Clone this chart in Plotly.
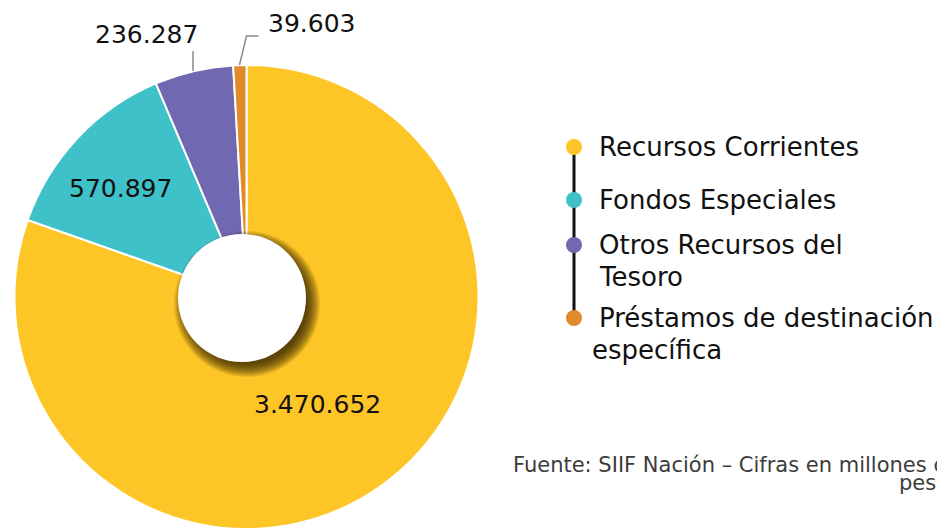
import textwrap
import plotly.graph_objects as go

# ---- data ----
categories = ["Recursos Corrientes", "Fondos Especiales",
              "Otros Recursos del Tesoro", "Préstamos de destinación específica"]
values = [3470652, 570897, 236287, 39603]
colors = ["#FDC526", "#3EC1C8", "#7068B0", "#E08A2A"]
source_note = ["Fuente: SIIF Nación – Cifras en millones de", "pesos"]

# the page body keeps its default 8px margin, so the figure is sized to fill the window
OFF = 8
W, H = 945 - OFF, 529 - OFF
FONT = "DejaVu Sans"


def px(x):  # window pixel -> paper fraction
    return (x - OFF) / W


def py(y):
    return 1 - (y - OFF) / H


def fmt(v):
    return f"{v:,}".replace(",", ".")


# pie geometry (window pixels)
cx, R = 246.5, 232.0
cy = 529 - R

fig = go.Figure()
fig.add_trace(go.Pie(
    labels=categories, values=values, sort=False, direction="clockwise",
    rotation=0, hole=0,
    marker=dict(colors=colors, line=dict(color="white", width=2)),
    textinfo="none", hoverinfo="label+value", showlegend=False,
    domain=dict(x=[px(cx - R), px(cx + R)], y=[0, (2 * R) / H]),
))

shapes = []
# hole shadow
hx, hy, hr = 242.0, 298.0, 64.0
sx, sy = hx + 5, hy + 6
for i in range(14):
    r = 73 - i
    shapes.append(dict(type="circle", xref="paper", yref="paper",
                       x0=px(sx - r), x1=px(sx + r), y0=py(sy + r), y1=py(sy - r),
                       fillcolor="rgba(35,20,0,0.085)", line=dict(width=0), layer="above"))
# white hole
shapes.append(dict(type="circle", xref="paper", yref="paper",
                   x0=px(hx - hr), x1=px(hx + hr), y0=py(hy + hr), y1=py(hy - hr),
                   fillcolor="white", line=dict(width=0), layer="above"))
# leader lines
shapes.append(dict(type="line", xref="paper", yref="paper",
                   x0=px(193), x1=px(193), y0=py(51), y1=py(71),
                   line=dict(color="#8a8a8a", width=1.5), layer="above"))
shapes.append(dict(type="path", xref="paper", yref="paper",
                   path=f"M {px(239.5)} {py(65)} L {px(246.5)} {py(36)} L {px(258.5)} {py(36)}",
                   line=dict(color="#8a8a8a", width=1.5), layer="above"))

# legend connector + dots
leg_x = 574
leg_y = [147, 200, 245, 318]
shapes.append(dict(type="line", xref="paper", yref="paper",
                   x0=px(leg_x), x1=px(leg_x), y0=py(leg_y[0]), y1=py(leg_y[-1]),
                   line=dict(color="#111111", width=3), layer="above"))
for y, c in zip(leg_y, colors):
    shapes.append(dict(type="circle", xref="paper", yref="paper",
                       x0=px(leg_x - 8), x1=px(leg_x + 8), y0=py(y + 8), y1=py(y - 8),
                       fillcolor=c, line=dict(width=0), layer="above"))

annotations = []
# value labels
label_pos = [(317, 404), (120, 188), (146, 35), (311, 23)]
for v, (x, y) in zip(values, label_pos):
    annotations.append(dict(text=fmt(v), x=px(x), y=py(y), xref="paper", yref="paper",
                            xanchor="center", yanchor="middle", showarrow=False,
                            font=dict(family=FONT, size=25, color="#111111")))
# legend text
line_h = 31.5
for i, (cat, y) in enumerate(zip(categories, leg_y)):
    lines = textwrap.wrap(cat, width=24)
    for j, ln in enumerate(lines):
        lx = 597 if (j == 0 or i < 3) else 590
        annotations.append(dict(text=ln, x=px(lx), y=py(y + j * line_h),
                                xref="paper", yref="paper", xanchor="left", yanchor="middle",
                                showarrow=False,
                                font=dict(family=FONT, size=26, color="#111111")))
# source note
for j, t in enumerate(source_note):
    annotations.append(dict(text=t, x=px(962), y=py(465 + j * 18), xref="paper", yref="paper",
                            xanchor="right", yanchor="middle", showarrow=False,
                            font=dict(family=FONT, size=21, color="#3c3c3c")))

fig.update_layout(
    width=W, height=H, margin=dict(l=0, r=0, t=0, b=0),
    paper_bgcolor="white", plot_bgcolor="white",
    shapes=shapes, annotations=annotations,
)
fig.write_html("out.html")
